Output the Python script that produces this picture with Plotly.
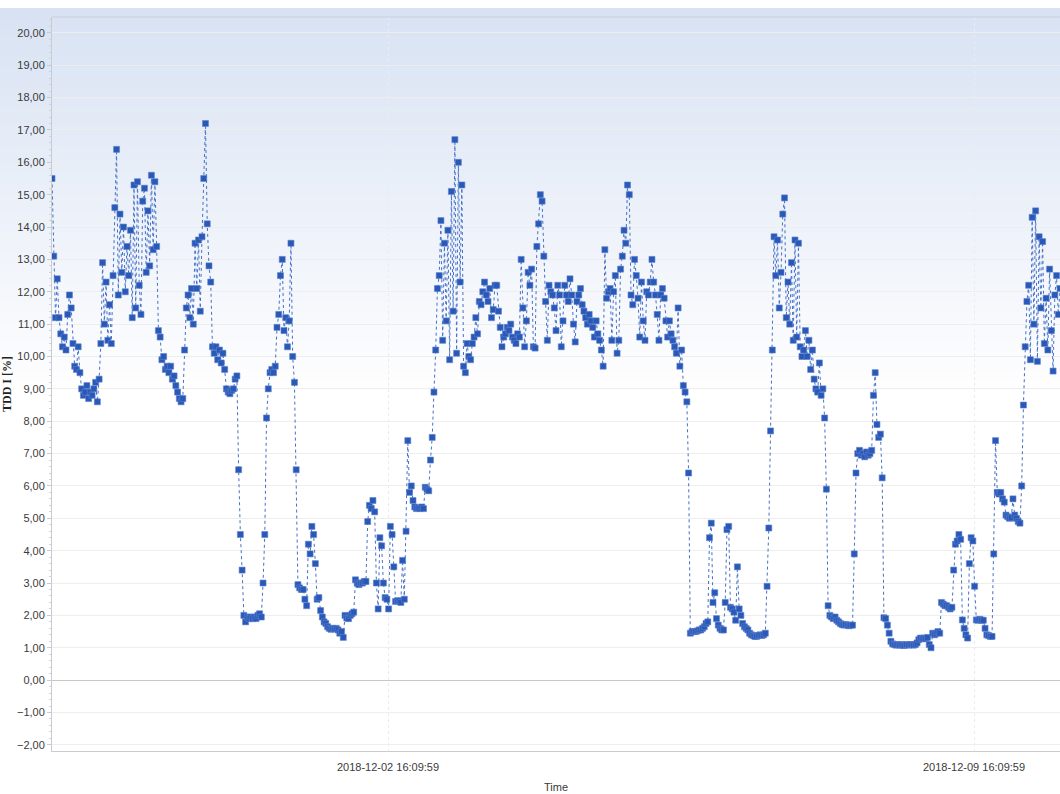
import plotly.graph_objects as go
import pandas as pd

# TDD I [%] readings, 30-minute interval, one list per day
day_01 = [15.5, 13.1, 11.2, 12.4, 11.2, 10.7, 10.3, 10.6, 10.2, 11.3, 11.9, 11.5,
          10.4, 9.7, 9.6, 10.3, 9.5, 9.0, 8.8, 8.9, 9.1, 8.7, 8.9, 8.8,
          9.0, 9.2, 8.6, 9.3, 10.4, 12.9, 11.0, 12.3, 10.5, 11.6, 10.4, 12.5,
          14.6, 16.4, 11.9, 14.4, 12.6, 14.0, 12.0, 13.4, 12.5, 13.9, 11.2, 15.3]
day_02 = [11.5, 15.4, 12.2, 11.3, 14.8, 15.2, 12.6, 14.5, 12.8, 15.6, 13.3, 15.4,
          13.4, 10.8, 10.6, 9.9, 10.0, 9.6, 9.7, 9.5, 9.7, 9.3, 9.4, 9.1,
          8.9, 8.7, 8.6, 8.7, 10.2, 11.5, 11.9, 11.2, 12.1, 11.0, 13.5, 12.1,
          13.6, 11.4, 13.7, 15.5, 17.2, 14.1, 12.8, 12.3, 10.3, 10.1, 10.3, 9.9]
day_03 = [10.2, 9.8, 10.1, 9.6, 9.0, 8.9, 8.85, 8.95, 9.0, 9.3, 9.4, 6.5,
          4.5, 3.4, 2.0, 1.8, 1.95, 1.9, 1.95, 1.9, 1.95, 1.9, 2.0, 2.05,
          1.95, 3.0, 4.5, 8.1, 9.0, 9.5, 9.6, 9.5, 9.7, 10.9, 11.3, 12.5,
          13.0, 10.8, 11.2, 10.3, 11.1, 13.5, 10.0, 9.2, 6.5, 2.95, 2.85, 2.8]
day_04 = [2.8, 2.5, 2.3, 4.2, 3.9, 4.75, 4.5, 3.6, 2.5, 2.55, 2.15, 1.95,
          1.8, 1.75, 1.65, 1.6, 1.57, 1.6, 1.58, 1.6, 1.55, 1.45, 1.5, 1.32,
          2.0, 1.92, 1.9, 2.0, 2.05, 2.1, 3.1, 3.0, 2.95, 3.0, 3.0, 3.05,
          3.05, 4.9, 5.4, 5.3, 5.55, 5.2, 3.0, 2.2, 4.4, 4.15, 3.0, 2.55]
day_05 = [2.5, 2.2, 4.75, 4.5, 3.5, 2.43, 2.45, 2.45, 2.4, 3.7, 2.5, 4.6,
          7.4, 5.8, 6.0, 5.55, 5.35, 5.3, 5.32, 5.3, 5.35, 5.3, 5.96, 5.9,
          5.85, 6.8, 7.5, 8.9, 10.2, 12.1, 12.5, 14.2, 10.5, 13.5, 11.1, 13.9,
          9.9, 15.1, 11.4, 16.7, 10.1, 16.0, 12.3, 15.3, 9.7, 9.5, 10.4, 10.0]
day_06 = [9.9, 10.4, 10.6, 11.2, 10.7, 11.7, 11.6, 12.0, 12.3, 11.9, 11.7, 12.1,
          11.2, 11.45, 12.2, 12.2, 11.4, 10.9, 10.3, 10.6, 10.7, 10.9, 10.8, 11.0,
          10.6, 10.5, 10.4, 10.7, 10.6, 13.0, 11.5, 10.3, 11.1, 12.6, 12.2, 12.7,
          10.3, 10.26, 13.4, 14.1, 15.0, 14.8, 13.1, 11.7, 10.5, 12.2, 12.0, 11.9]
day_07 = [11.5, 10.8, 12.2, 11.9, 10.3, 11.1, 12.2, 11.9, 11.7, 12.4, 11.9, 11.0,
          10.45, 11.7, 11.9, 12.1, 11.6, 11.4, 11.2, 11.0, 11.3, 11.1, 10.9, 10.6,
          11.1, 10.7, 10.5, 10.2, 9.7, 13.3, 11.8, 12.0, 12.1, 10.5, 12.0, 12.5,
          10.1, 10.5, 12.7, 13.1, 13.9, 13.5, 15.3, 15.0, 11.9, 11.6, 13.0, 12.5]
day_08 = [11.8, 10.6, 12.3, 11.1, 10.5, 12.0, 11.9, 12.3, 13.0, 12.3, 11.9, 11.3,
          10.5, 11.9, 12.1, 11.8, 11.1, 10.6, 11.1, 10.7, 10.5, 10.3, 10.1, 11.5,
          9.7, 10.2, 9.1, 8.9, 8.6, 6.4, 1.45, 1.5, 1.5, 1.5, 1.52, 1.55,
          1.55, 1.6, 1.65, 1.75, 1.8, 4.4, 4.85, 2.4, 2.7, 1.9, 1.7, 1.6]
day_09 = [1.55, 1.55, 2.4, 4.65, 4.75, 2.25, 2.2, 2.1, 1.85, 3.5, 2.2, 2.0,
          1.75, 1.65, 1.6, 1.55, 1.45, 1.4, 1.38, 1.35, 1.35, 1.38, 1.4, 1.38,
          1.4, 1.45, 2.9, 4.7, 7.7, 10.2, 13.7, 12.5, 13.6, 11.5, 12.6, 14.4,
          14.9, 11.2, 12.3, 11.0, 12.9, 10.5, 13.6, 10.6, 13.5, 10.3, 10.0, 10.2]
day_10 = [10.8, 10.0, 10.5, 9.6, 10.2, 9.3, 9.0, 8.9, 9.8, 8.8, 9.0, 8.1,
          5.9, 2.3, 2.0, 1.95, 1.9, 1.95, 1.85, 1.8, 1.75, 1.72, 1.7, 1.72,
          1.7, 1.68, 1.7, 1.7, 3.9, 6.4, 7.0, 7.1, 6.95, 7.0, 6.9, 7.05,
          6.95, 7.0, 7.1, 8.8, 9.5, 7.9, 7.5, 7.6, 6.25, 1.93, 1.9, 1.7]
day_11 = [1.45, 1.2, 1.12, 1.1, 1.08, 1.1, 1.08, 1.1, 1.07, 1.08, 1.1, 1.08,
          1.1, 1.1, 1.08, 1.1, 1.15, 1.25, 1.3, 1.28, 1.3, 1.28, 1.32, 1.1,
          1.0, 1.45, 1.4, 1.45, 1.5, 1.45, 2.4, 2.35, 2.3, 2.3, 2.25, 2.2,
          2.25, 3.4, 4.2, 4.3, 4.5, 4.35, 1.86, 1.6, 1.4, 1.3, 3.6, 4.4]
day_12 = [4.3, 2.9, 1.86, 1.85, 1.88, 1.85, 1.85, 1.6, 1.4, 1.38, 1.35, 1.35,
          3.9, 7.4, 5.8, 5.75, 5.8, 5.6, 5.5, 5.1, 5.05, 5.0, 5.02, 5.6,
          5.1, 5.0, 4.9, 4.85, 6.0, 8.5, 10.3, 11.7, 12.2, 9.9, 14.3, 11.0,
          14.5, 9.85, 13.7, 11.5, 13.55, 10.4, 11.8, 10.2, 12.7, 10.8, 9.55, 11.9,
          12.5, 11.3, 12.1]

start_time = "2018-11-28 15:49:59"
x_tick_vals = ["2018-12-02 16:09:59", "2018-12-09 16:09:59"]
x_tick_text = ["2018-12-02 16:09:59", "2018-12-09 16:09:59"]
y_tick_vals = list(range(-2, 21))

values = (day_01 + day_02 + day_03 + day_04 + day_05 + day_06 + day_07 +
          day_08 + day_09 + day_10 + day_11 + day_12)
times = pd.date_range(start=start_time, periods=len(values), freq="30min")

W, H = 1060, 794
ML, MR, MT, MB = 52, 0, 17, 43
PW, PH = W - ML - MR, H - MT - MB

fig = go.Figure()
fig.add_trace(go.Scatter(
    x=times, y=values, mode="lines+markers",
    line=dict(color="#4470c8", width=1, dash="dot"),
    marker=dict(symbol="square", size=6, color="#2a58b6",
                line=dict(color="#5a82d0", width=0.6)),
    hoverinfo="x+y", showlegend=False, cliponaxis=True,
))

# background vertical gradient (light blue at top fading to white)
shapes = []
top_px, fade_px, n = 8, 400, 40
c0 = (216, 226, 243)
for k in range(n):
    p0 = top_px + (fade_px - top_px) * k / n
    p1 = top_px + (fade_px - top_px) * (k + 1) / n + 1.5  # overlap to avoid seams
    t = (k + 0.5) / n
    c = tuple(int(round(c0[i] + (255 - c0[i]) * t)) for i in range(3))
    shapes.append(dict(
        type="rect", xref="paper", yref="paper", layer="below",
        x0=-ML / PW, x1=1.0,
        y0=1 - (p1 - MT) / PH, y1=1 - (p0 - MT) / PH,
        fillcolor="rgb(%d,%d,%d)" % c, line=dict(width=0),
    ))
# top frame line
shapes.append(dict(type="line", xref="paper", yref="paper", x0=0, x1=1, y0=1, y1=1,
                   line=dict(color="#c9cfd8", width=1)))

label_font = dict(family="Liberation Sans Narrow, Arial Narrow, Liberation Sans, sans-serif",
                  size=11, color="#3a3a3a")

fig.update_layout(
    width=W, height=H,
    margin=dict(l=ML, r=MR, t=MT, b=MB, pad=0, autoexpand=False),
    paper_bgcolor="white", plot_bgcolor="rgba(0,0,0,0)",
    separators=",.",
    shapes=shapes,
    xaxis=dict(
        type="date", automargin=False,
        range=["2018-11-28 15:49:40", "2018-12-10 16:49:00"],
        tickvals=x_tick_vals, ticktext=x_tick_text,
        tickfont=label_font, ticks="", ticklabelstandoff=6, showgrid=True,
        gridcolor="#e9edf2", gridwidth=1, griddash="dot",
        showline=True, linecolor="#c8ccd2", linewidth=1,
        zeroline=False,
        title=dict(text="Time", font=label_font, standoff=11),
    ),
    yaxis=dict(
        automargin=False,
        range=[-2.19, 20.49],
        tickvals=y_tick_vals, tickformat=".2f",
        tickfont=label_font, ticks="outside", ticklen=4, tickcolor="#c8ccd2",
        showgrid=True, gridcolor="#eeeeee", gridwidth=1,
        zeroline=True, zerolinecolor="#c8c8c8", zerolinewidth=1,
        showline=True, linecolor="#c8ccd2", linewidth=1,
        minor=dict(dtick=0.2, ticks="outside", ticklen=2, tickcolor="#d0d3d8", showgrid=False),
        title=dict(text="TDD I [%]",
                   font=dict(family="Liberation Serif, Times New Roman, serif",
                             size=12, color="#222222", weight="bold"),
                   standoff=4),
    ),
)

fig.write_html(
    "out.html",
    config={"displayModeBar": False},
    post_script="document.body.style.margin='0';document.body.style.overflow='hidden';",
)
